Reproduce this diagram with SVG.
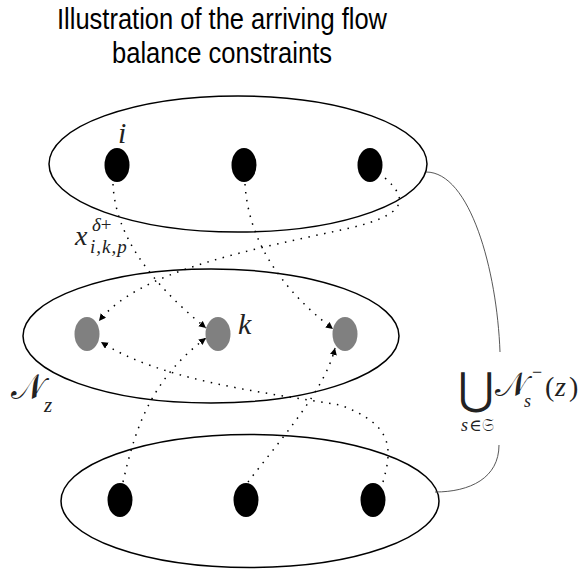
<svg xmlns="http://www.w3.org/2000/svg" width="582" height="574" viewBox="0 0 582 574">
  <style>
    .title { font-family: "Liberation Sans", Arial, sans-serif; font-size: 29px; fill: #000; }
    .set { fill: none; stroke: #000; stroke-width: 1.5; }
    .dark { fill: #000; }
    .grey { fill: #808080; }
    .math { font-family: "Liberation Serif", "DejaVu Serif", serif; font-style: italic; fill: #222; }
    .rm { font-family: "Liberation Serif", "DejaVu Serif", serif; font-style: normal; fill: #222; }
    .cal { font-family: "DejaVu Serif", "DejaVu Sans", "Noto Sans", serif; font-style: normal; fill: #222; }
    .flow { fill: none; stroke: #000; stroke-width: 1.5; stroke-dasharray: 1.5 6.5; stroke-linecap: butt; }
    .link { fill: none; stroke: #444; stroke-width: 0.9; }
  </style>
  <defs>
    <marker id="arrow" markerUnits="userSpaceOnUse" markerWidth="8" markerHeight="8" refX="7" refY="3.5" orient="auto">
      <path d="M0,0 L7,3.5 L0,7 z" fill="#000"/>
    </marker>
  </defs>

  <rect width="582" height="574" fill="#fff"/>

  <!-- title -->
  <text class="title" x="222" y="29" text-anchor="middle" textLength="330" lengthAdjust="spacingAndGlyphs">Illustration of the arriving flow</text>
  <text class="title" x="222" y="63" text-anchor="middle" textLength="220" lengthAdjust="spacingAndGlyphs">balance constraints</text>

  <!-- upper layer -->
  <g id="layer-top">
    <ellipse class="set" cx="238" cy="164" rx="189" ry="68"/>
    <g id="node-i"><ellipse class="dark" cx="117" cy="165" rx="12.5" ry="17"/></g>
    <g id="node-top-2"><ellipse class="dark" cx="244" cy="165" rx="12.5" ry="17"/></g>
    <g id="node-top-3"><ellipse class="dark" cx="370" cy="165" rx="12.5" ry="17"/></g>
    <text class="math" x="118" y="143" font-size="30">i</text>
  </g>

  <!-- middle layer: N_z -->
  <g id="layer-z">
    <ellipse class="set" cx="211" cy="336" rx="188" ry="67"/>
    <g id="node-z-1"><ellipse class="grey" cx="87" cy="334" rx="12.5" ry="17"/></g>
    <g id="node-k"><ellipse class="grey" cx="218" cy="334" rx="12.5" ry="17"/></g>
    <g id="node-z-3"><ellipse class="grey" cx="345" cy="334" rx="12.5" ry="17"/></g>
    <text class="math" x="238" y="334" font-size="30">k</text>
    <text class="cal" x="11" y="399" font-size="35">𝒩</text>
    <text class="math" x="44" y="412" font-size="21">z</text>
  </g>

  <!-- lower layer -->
  <g id="layer-bottom">
    <ellipse class="set" cx="250" cy="501" rx="189" ry="66.5"/>
    <g id="node-bot-1"><ellipse class="dark" cx="120" cy="500" rx="12.5" ry="17"/></g>
    <g id="node-bot-2"><ellipse class="dark" cx="246" cy="500" rx="12.5" ry="17"/></g>
    <g id="node-bot-3"><ellipse class="dark" cx="373" cy="500" rx="12.5" ry="17"/></g>
  </g>

  <!-- union bracket label -->
  <g id="union-label">
    <path class="link" d="M426,172 C470,172 497,270 500,352"/>
    <path class="link" d="M499,445 C499,478 470,492 435,492"/>
    <text class="cal" x="458" y="404" font-size="44">⋃</text>
    <text class="cal" x="495" y="396" font-size="34">𝒩</text>
    <text class="math" x="524" y="407" font-size="18">s</text>
    <text class="rm" x="532" y="378" font-size="18">−</text>
    <text class="rm" x="545" y="396" font-size="28">(</text>
    <text class="math" x="555" y="396" font-size="28">z</text>
    <text class="rm" x="569" y="396" font-size="28">)</text>
    <text class="math" x="461" y="431" font-size="18">s</text>
    <text class="cal" x="469" y="431" font-size="17">∈𝔖</text>
  </g>

  <!-- flow variable label -->
  <g id="flow-label">
    <text class="math" x="75" y="245" font-size="28">x</text>
    <text class="math" x="92" y="231" font-size="19">δ<tspan class="rm">+</tspan></text>
    <text class="math" x="90" y="253" font-size="19" letter-spacing="1">i,k,p</text>
  </g>

  <!-- arriving flows -->
  <g id="connectors">
    <path class="flow" marker-end="url(#arrow)" d="M113,184 Q116,255 206,328"/>
    <path class="flow" marker-end="url(#arrow)" d="M245,184 Q250,265 333,329"/>
    <path class="flow" marker-end="url(#arrow)" d="M385,178 C410,200 405,215 350,228 C250,250 140,270 99,321"/>
    <path class="flow" marker-end="url(#arrow)" d="M123,482 C135,430 150,380 206,338"/>
    <path class="flow" marker-end="url(#arrow)" d="M248,482 C280,440 325,390 335,348"/>
    <path class="flow" marker-end="url(#arrow)" d="M383,482 C392,450 395,425 340,405 C260,392 160,380 101,342"/>
  </g>
</svg>
